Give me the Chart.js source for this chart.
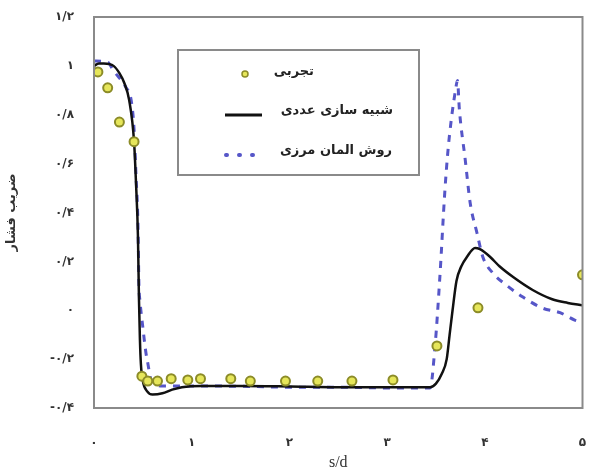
<!DOCTYPE html>
<html>
<head>
<meta charset="utf-8">
<script src="https://cdn.jsdelivr.net/npm/chart.js@4/dist/chart.umd.min.js"></script>
<style>
  html, body { margin: 0; padding: 0; background: #fff; }
  #wrap { width: 589px; height: 476px; }
</style>
</head>
<body>
<div id="wrap"><canvas id="chart" width="589" height="476"></canvas></div>
<script>
// Experimental points
const expX = [0.04, 0.14, 0.26, 0.41, 0.49, 0.55, 0.65, 0.79, 0.96, 1.09, 1.40, 1.60, 1.96, 2.29, 2.64, 3.06, 3.51, 3.93, 5.0]
const expY = [0.975, 0.91, 0.77, 0.69, -0.27, -0.29, -0.29, -0.28, -0.285, -0.28, -0.28, -0.29, -0.29, -0.29, -0.29, -0.285, -0.146, 0.01, 0.145]

// Numerical simulation (black line)
const simX = [0, 0.05, 0.1, 0.2, 0.26, 0.31, 0.36, 0.41, 0.43, 0.45, 0.46, 0.47, 0.48, 0.5, 0.54, 0.6, 0.7, 0.8, 0.9, 1.1, 1.5, 2.0, 2.5, 3.0, 3.44, 3.5, 3.56, 3.61, 3.64, 3.67, 3.71, 3.76, 3.82, 3.9, 3.95, 4.05, 4.15, 4.29, 4.49, 4.69, 4.85, 5.0]
const simY = [1.0, 1.01, 1.01, 1.0, 0.97, 0.93, 0.86, 0.69, 0.52, 0.3, 0.05, -0.12, -0.22, -0.29, -0.33, -0.345, -0.34, -0.325, -0.315, -0.31, -0.31, -0.312, -0.315, -0.315, -0.315, -0.3, -0.26, -0.2, -0.1, 0.0, 0.12, 0.18, 0.22, 0.255, 0.25, 0.22, 0.18, 0.136, 0.083, 0.045, 0.03, 0.02]

// Boundary element method (blue dashed)
const bemX = [0, 0.14, 0.2, 0.33, 0.38, 0.41, 0.43, 0.45, 0.46, 0.47, 0.5, 0.53, 0.55, 0.58, 0.62, 0.7, 0.9, 1.2, 1.6, 2.0, 2.5, 3.0, 3.44, 3.49, 3.54, 3.59, 3.62, 3.66, 3.7, 3.72, 3.74, 3.8, 3.85, 3.92, 3.98, 4.08, 4.22, 4.39, 4.59, 4.77, 4.92, 5.0]
const bemY = [1.02, 1.015, 0.98, 0.91, 0.86, 0.74, 0.55, 0.35, 0.1, 0.04, -0.07, -0.17, -0.215, -0.28, -0.3, -0.31, -0.31, -0.31, -0.312, -0.315, -0.315, -0.318, -0.318, -0.15, 0.136, 0.48, 0.64, 0.79, 0.9, 0.94, 0.82, 0.615, 0.44, 0.316, 0.218, 0.153, 0.103, 0.054, 0.009, -0.01, -0.04, -0.05]

const xTicks = [0, 1, 2, 3, 4, 5]
const yTicks = [-0.4, -0.2, 0, 0.2, 0.4, 0.6, 0.8, 1, 1.2]

const legendLabels = ["تجربی", "شبیه سازی عددی", "روش المان مرزی"]
const xTitle = "s/d"
const yTitle = "ضریب فشار"

const faDigits = "۰۱۲۳۴۵۶۷۸۹"
function toFa(v) {
  let s = (Math.round(v * 10) / 10).toString()
  s = s.replace(".", "/")
  return s.replace(/[0-9]/g, (d) => faDigits[+d])
}

const pts = (xs, ys) => xs.map((x, i) => ({ x, y: ys[i] }))

const frameAndLegend = {
  id: "frameAndLegend",
  afterDatasetsDraw(chart) {
    const { ctx, chartArea: a } = chart
    ctx.save()
    ctx.strokeStyle = "#8a8a8a"
    ctx.lineWidth = 2
    ctx.strokeRect(a.left, a.top, a.right - a.left, a.bottom - a.top)

    // legend box
    ctx.fillStyle = "#fff"
    ctx.fillRect(178, 50, 241, 125)
    ctx.strokeRect(178, 50, 241, 125)

    ctx.font = "bold 13px 'DejaVu Sans'"
    ctx.fillStyle = "#222"
    ctx.textAlign = "right"
    ctx.textBaseline = "middle"
    ctx.fillText(legendLabels[0], 314, 72)
    ctx.fillText(legendLabels[1], 393, 111)
    ctx.fillText(legendLabels[2], 392, 151)

    ctx.beginPath()
    ctx.arc(245, 74, 3, 0, Math.PI * 2)
    ctx.fillStyle = "#e6e65a"
    ctx.fill()
    ctx.lineWidth = 1.5
    ctx.strokeStyle = "#8c8c28"
    ctx.stroke()

    ctx.beginPath()
    ctx.moveTo(225, 115)
    ctx.lineTo(262, 115)
    ctx.lineWidth = 3
    ctx.strokeStyle = "#111"
    ctx.stroke()

    ctx.beginPath()
    ctx.setLineDash([1, 12])
    ctx.lineCap = "round"
    ctx.moveTo(226, 155)
    ctx.lineTo(262, 155)
    ctx.lineWidth = 4
    ctx.strokeStyle = "#5656c8"
    ctx.stroke()
    ctx.restore()
  },
}

new Chart(document.getElementById("chart"), {
  type: "scatter",
  data: {
    datasets: [
      {
        label: legendLabels[0],
        data: pts(expX, expY),
        pointRadius: 4.5,
        pointBackgroundColor: "#e6e65a",
        pointBorderColor: "#8c8c28",
        pointBorderWidth: 2,
        showLine: false,
        order: 0,
      },
      {
        label: legendLabels[1],
        data: pts(simX, simY),
        showLine: true,
        borderColor: "#111",
        borderWidth: 2.5,
        pointRadius: 0,
        cubicInterpolationMode: "monotone",
        order: 1,
      },
      {
        label: legendLabels[2],
        data: pts(bemX, bemY),
        showLine: true,
        borderColor: "#5656c8",
        borderWidth: 3,
        borderDash: [7, 7],
        pointRadius: 0,
        cubicInterpolationMode: "monotone",
        order: 2,
      },
    ],
  },
  options: {
    responsive: false,
    animation: false,
    layout: { padding: { top: 17, right: 4, left: 0, bottom: 0 } },
    plugins: { legend: { display: false }, tooltip: { enabled: false } },
    scales: {
      x: {
        type: "linear",
        min: 0,
        max: 5,
        afterBuildTicks: (s) => { s.ticks = xTicks.map((v) => ({ value: v })) },
        afterFit: (s) => {
          s.height = 68
          s.paddingLeft = 0
          s.paddingRight = 0
        },
        grid: { display: false },
        border: { display: false },
        ticks: {
          padding: 20,
          color: "#333",
          font: { family: "DejaVu Sans", size: 12, weight: "bold" },
          callback: (v) => toFa(v),
        },
        title: {
          display: true,
          text: xTitle,
          color: "#333",
          font: { family: "Liberation Serif", size: 16 },
          padding: { top: 0, bottom: 4 },
        },
      },
      y: {
        type: "linear",
        min: -0.4,
        max: 1.2,
        afterBuildTicks: (s) => { s.ticks = yTicks.map((v) => ({ value: v })) },
        afterFit: (s) => {
          s.width = 94
          s.paddingTop = 0
          s.paddingBottom = 0
        },
        grid: { display: false },
        border: { display: false },
        ticks: {
          padding: 12,
          color: "#333",
          font: { family: "DejaVu Sans", size: 12, weight: "bold" },
          callback: (v) => toFa(v),
        },
        title: {
          display: true,
          text: yTitle,
          color: "#333",
          font: { family: "DejaVu Sans", size: 13, weight: "bold" },
          padding: { top: 4, bottom: 0 },
        },
      },
    },
  },
  plugins: [frameAndLegend],
})
</script>
</body>
</html>
